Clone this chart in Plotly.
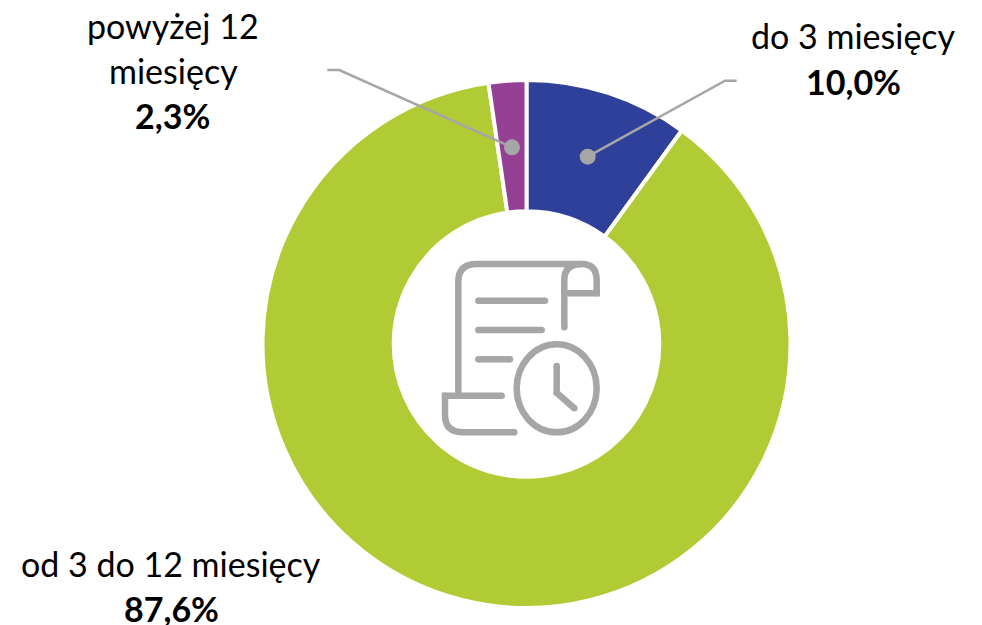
import plotly.graph_objects as go

categories = ["do 3 miesięcy", "od 3 do 12 miesięcy", "powyżej 12 miesięcy"]
values = [10.0, 87.6, 2.3]
colors = ["#2E4099", "#B1CB34", "#953F95"]
W, H = 982, 625
CX, CY, R = 526.5, 344, 264
GREY = "#A6A6A6"
FONT = "Lato, Carlito, Calibri, sans-serif"

fig = go.Figure(go.Pie(
    labels=categories, values=values, sort=False, direction="clockwise", rotation=0,
    hole=0.503, textinfo="none", showlegend=False,
    marker=dict(colors=colors, line=dict(color="white", width=4)),
    domain=dict(x=[(CX - R) / W, (CX + R) / W], y=[1 - (CY + R) / H, 1 - (CY - R) / H]),
))

shapes = []

def stroke(path, width=6.5):
    shapes.append(dict(type="path", path=path, xref="x", yref="y", line=dict(color=GREY, width=width)))

def z(x, y):
    return f"{420 + x / 3:.1f},{240 + y / 3:.1f}"

def cap(x, y, r=3.25):
    px, py = 420 + x / 3, 240 + y / 3
    shapes.append(dict(type="circle", x0=px - r, x1=px + r, y0=py - r, y1=py + r, xref="x", yref="y",
                       fillcolor=GREY, line=dict(width=0)))

# document icon
stroke(f"M{z(115,460)} L{z(115,125)} Q{z(115,72)} {z(170,72)} L{z(485,72)} Q{z(530,72)} {z(530,122)} L{z(530,160)} L{z(433,160)}")
stroke(f"M{z(433,262)} L{z(433,120)} Q{z(433,72)} {z(485,72)}")
for x0, x1, y in [(175, 375, 182), (175, 365, 270), (175, 270, 358)]:
    stroke(f"M{z(x0,y)} L{z(x1,y)}")
    cap(x0, y); cap(x1, y)
stroke(f"M{z(245,467)} L{z(75,467)} L{z(75,525)} Q{z(75,577)} {z(130,577)} L{z(283,577)}")
cap(245, 467); cap(283, 577); cap(75, 467); cap(433, 262); cap(530, 160)
stroke(f"M{z(410,378)} L{z(410,458)} L{z(463,505)}")
cap(410, 378); cap(410, 458); cap(463, 505)
shapes.append(dict(type="circle", xref="x", yref="y", x0=420 + 290 / 3, x1=420 + 530 / 3,
                   y0=240 + 313 / 3, y1=240 + 577 / 3, line=dict(color=GREY, width=6.5)))

# leader lines
for path, (dx, dy) in [("M587.7,156.7 L725,80.7 L736.7,80.7", (587.7, 156.7)),
                       ("M512,147.3 L339.3,70 L327.3,70", (512, 147.3))]:
    stroke(path, 2.5)
    shapes.append(dict(type="circle", x0=dx - 8, x1=dx + 8, y0=dy - 8, y1=dy + 8, xref="x", yref="y",
                       fillcolor=GREY, line=dict(width=0)))

def fmt(v):
    return f"{v:.1f}".replace(".", ",") + "%"

labels = [
    (853, 35, categories[0], False), (853, 81, fmt(values[0]), True),
    (171, 563, categories[1], False), (171, 608, fmt(values[1]), True),
    (173, 25, "powyżej 12", False), (173, 70, "miesięcy", False), (172, 115, fmt(values[2]), True),
]
annotations = [dict(x=x, y=y, xref="x", yref="y", text=f"<b>{t}</b>" if b else t, showarrow=False,
                    xanchor="center", yanchor="middle", font=dict(family=FONT, size=34, color="#000000"))
               for x, y, t, b in labels]

fig.update_layout(
    width=W, height=H, margin=dict(l=0, r=0, t=0, b=0), paper_bgcolor="white", plot_bgcolor="rgba(0,0,0,0)",
    xaxis=dict(range=[0, W], visible=False, fixedrange=True),
    yaxis=dict(range=[H, 0], visible=False, fixedrange=True),
    shapes=shapes, annotations=annotations,
)
fig.write_html("out.html", config=dict(displayModeBar=False),
               post_script="document.body.style.margin='0';document.documentElement.style.overflow='hidden';")
